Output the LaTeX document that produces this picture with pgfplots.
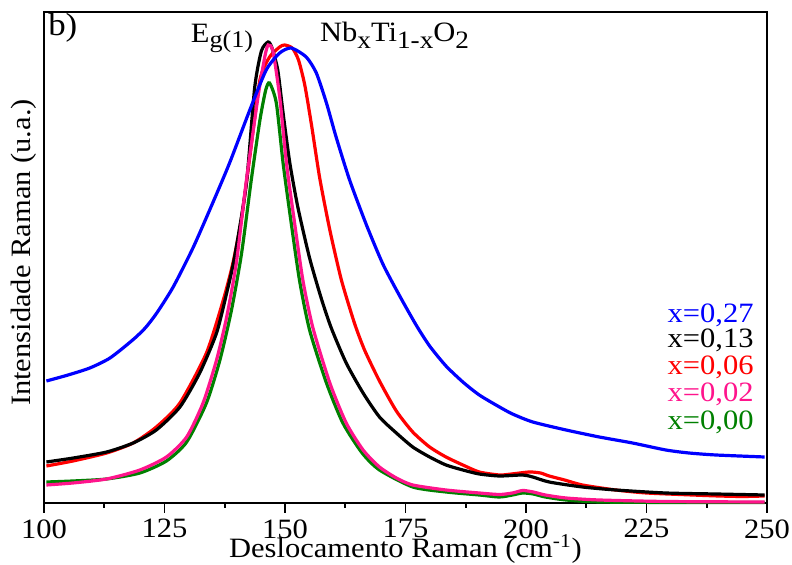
\documentclass[border=0pt]{standalone}
\usepackage{fontspec}
\setmainfont{Liberation Serif}[FakeStretch=1.09]
\usepackage{pgfplots}
\pgfplotsset{compat=1.18}
\definecolor{cblue}{RGB}{0,0,255}
\definecolor{cred}{RGB}{255,0,0}
\definecolor{cpink}{RGB}{255,20,140}
\definecolor{cgreen}{RGB}{0,128,0}
\newcommand{\fs}{\fontsize{14}{16}\selectfont}
\newcommand{\subE}[1]{\raisebox{-2.5pt}{\fontsize{12}{12}\selectfont #1}}
\newcommand{\subN}[1]{\raisebox{-3.5pt}{\fontsize{12.5}{12}\selectfont #1}}
\begin{document}
\begin{tikzpicture}
\begin{axis}[
  scale only axis, width=361.5pt, height=245.5pt,
  xmin=100, xmax=250, ymin=0, ymax=491,
  xtick={100,125,...,250}, minor x tick num=1,
  xtick pos=bottom, ytick=\empty,
  tick align=outside,
  major tick length=5pt, minor tick length=2.5pt,
  every tick/.style={black, line width=0.9pt},
  axis line style={line width=1pt},
  /pgf/number format/assume math mode=true,
  tick label style={font=\fs},
  label style={font=\fs},
  xticklabel style={inner sep=0pt},
  xticklabel shift=3pt,
  xlabel={Deslocamento Raman (cm\textsuperscript{-1})},
  ylabel={Intensidade Raman (u.a.)},
  xlabel style={at={(rel axis cs:0.5,0)}, anchor=base, inner sep=0pt, yshift=-27.5pt},
  ylabel style={at={(rel axis cs:0,0.51)}},
  ylabel shift=-5.5pt,
  clip=false,
  every axis plot/.append style={line width=1.6pt, smooth, tension=0.4},
]
\addplot[cred] coordinates {
(100.5,37) (106,42) (113,50) (118.5,60) (123.3,76) (128.2,100) (133.7,150) (137.2,203) (139.2,240) (141,285) (142.7,346) (144.8,423) (146.8,446) (148.9,456) (149.9,458) (151.5,455) (152.8,443) (154.1,418) (155.5,378) (157.2,325) (159.3,273) (161.7,223) (164.4,180) (166.5,153) (169.6,122) (173.1,92) (176.5,71) (180,56) (183.4,46) (186.9,38) (190.3,31) (194.5,28) (197,29) (200.7,31) (203,30) (204.8,27) (208,23) (211.7,18) (218.6,13) (225,10) (234.5,8) (240,7) (244.9,6.5) (249.5,7)
};
\addplot[black] coordinates {
(100.5,41) (106.1,45) (113,51) (118.5,60) (123.3,73) (128.2,96) (132.3,130) (135.8,170) (137.9,210) (139.5,245) (142,320) (143.7,415) (145.1,452) (146.5,461) (147.3,455) (148.5,433) (149.6,390) (151,340) (152.7,295) (155.1,245) (157.5,205) (159.6,175) (162.7,140) (166.2,110) (169.6,86) (173.1,70) (176.5,56) (180,46) (183.4,38) (186.9,33) (190.3,29) (194.5,27) (199.3,28) (201.4,26) (204.8,21) (211.7,16) (218.6,13) (229,10) (239.4,9) (249.5,8)
};
\addplot[cgreen] coordinates {
(100.5,21) (106,22) (113,24) (119.9,30) (125.4,42) (129.6,61) (133.7,100) (136.5,143) (138.9,193) (141,250) (143,323) (144.8,383) (146,413) (146.8,420) (148.2,400) (149.6,340) (151,290) (153,223) (155.1,173) (158.6,120) (162,80) (166,50) (169.6,33) (176.5,16) (183.4,11) (190.3,8) (194.5,6) (197.2,8) (199.3,10) (201.5,9) (204,6) (208.3,3) (215.2,1) (230,0.5) (249.5,0.4)
};
\addplot[cpink] coordinates {
(100.5,18) (106,20) (113,24) (119.9,33) (125.4,46) (129.6,66) (133,100) (135.8,143) (137.9,186) (139.9,240) (142,323) (144.4,406) (145.8,446) (146.5,458) (147.5,452) (148.9,406) (150.3,340) (151.7,290) (153.7,223) (155.8,175) (159.3,120) (162.7,80) (166.2,53) (169.6,36) (173.1,25) (176.5,18) (183.4,13) (190.3,10) (194.5,8.5) (197.2,10) (199.3,12.5) (201.5,11) (204,8) (208.3,5) (215.2,3) (229,1.5) (249.5,1)
};
\addplot[cblue] coordinates {
(100.5,122) (105,128) (109.5,135) (113.7,145) (118.4,163) (121,175) (123.4,190) (126.8,216) (130.9,255) (135,300) (138.5,340) (142.7,393) (146.1,433) (148.9,450) (151.3,455) (154.4,446) (156.5,430) (158.6,400) (160.6,366) (163.4,323) (166.9,278) (170.3,239) (173.8,207) (177.2,178) (180,157) (183.4,137) (186.9,121) (190.3,108) (194.5,96) (197.2,89) (201.4,81) (208.3,73) (215.2,66) (222.1,60) (229,53) (233.8,50) (239.4,48) (249.5,46)
};
\node[anchor=base west, font=\fontsize{16}{18}\selectfont, inner sep=0pt] at (axis cs:100.8,467) {b)};
\node[anchor=base west, font=\fs, inner sep=0pt] at (axis cs:130.4,460) {E\subE{g(1)}};
\node[anchor=base west, font=\fs, inner sep=0pt] at (axis cs:157.2,461) {Nb\subN{x}Ti\subN{1-x}O\subN{2}};
\node[anchor=base east, font=\fs, inner sep=0pt, text=cblue] at (axis cs:247.3,180) {x=0,27};
\node[anchor=base east, font=\fs, inner sep=0pt, text=black] at (axis cs:247.3,155) {x=0,13};
\node[anchor=base east, font=\fs, inner sep=0pt, text=cred] at (axis cs:247.3,128) {x=0,06};
\node[anchor=base east, font=\fs, inner sep=0pt, text=cpink] at (axis cs:247.3,101) {x=0,02};
\node[anchor=base east, font=\fs, inner sep=0pt, text=cgreen] at (axis cs:247.3,73) {x=0,00};
\coordinate (bl) at (rel axis cs:0,0);
\coordinate (tr) at (rel axis cs:1,1);
\end{axis}
\pgfresetboundingbox
\useasboundingbox ([shift={(-22pt,-31pt)}]bl) rectangle ([shift={(12.5pt,6pt)}]tr);
\end{tikzpicture}
\end{document}
